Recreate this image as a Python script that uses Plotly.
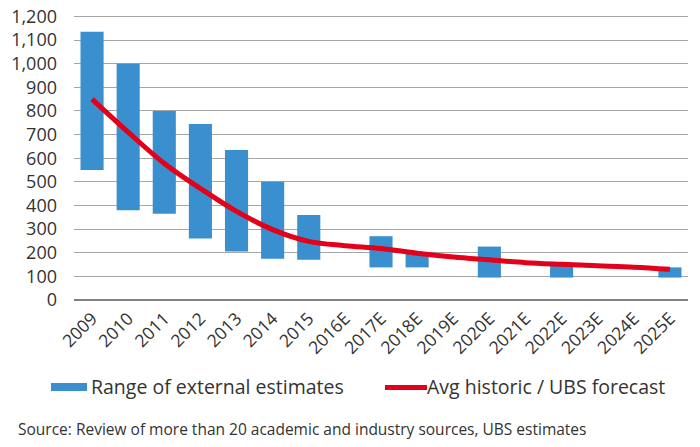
import plotly.graph_objects as go

categories = ["2009", "2010", "2011", "2012", "2013", "2014", "2015", "2016E", "2017E",
              "2018E", "2019E", "2020E", "2021E", "2022E", "2023E", "2024E", "2025E"]
range_low = [550, 380, 365, 260, 205, 175, 170, None, 138, 138, None, 95, None, 95, None, None, 95]
range_high = [1135, 1000, 800, 745, 635, 500, 360, None, 270, 195, None, 226, None, 150, None, None, 138]
avg_forecast = [850, 710, 578, 472, 375, 298, 248, 230, 218, 198, 182, 170, 158, 151, 145, 139, 130]
y_ticks = [0, 100, 200, 300, 400, 500, 600, 700, 800, 900, 1000, 1100, 1200]

legend_bar = "Range of external estimates"
legend_line = "Avg historic / UBS forecast"
source_text = "Source: Review of more than 20 academic and industry sources, UBS estimates"

BLUE = "#3a8fcf"
RED = "#e2001a"
TEXT = "#333333"
FONT = "Open Sans"

# body margin is removed in the page (post_script), so figure px == screen px
OFF = 0
YMAX = 1206
PX_PER_UNIT = 283.3 / 1200
PL, PW = 74 - OFF, 614
PH = PX_PER_UNIT * YMAX
PT = 300 - OFF - PH


def px(x):
    return (x - OFF - PL) / PW


def py(y):
    return 1 - (y - OFF - PT) / PH


heights = [None if (h is None or l is None) else h - l for h, l in zip(range_high, range_low)]

fig = go.Figure()
fig.add_trace(go.Bar(
    x=categories, y=heights, base=range_low, marker=dict(color=BLUE, line=dict(width=0)),
    name=legend_bar, showlegend=False,
))
fig.add_trace(go.Scatter(
    x=categories, y=avg_forecast, mode="lines",
    line=dict(color=RED, width=5, shape="spline", smoothing=1.0),
    name=legend_line, showlegend=False,
))

fig.update_layout(
    width=700, height=447,
    margin=dict(l=PL, r=700 - PL - PW, t=PT, b=447 - PT - PH, autoexpand=False),
    paper_bgcolor="white", plot_bgcolor="white",
    bargap=0.36,
    font=dict(family=FONT, color=TEXT),
    showlegend=False,
)
fig.update_yaxes(
    range=[0, YMAX], tickvals=y_ticks, automargin=False,
    ticktext=[f"{v:,}" for v in y_ticks],
    showgrid=True, gridcolor="#a6a6a6", gridwidth=1.3,
    zeroline=True, zerolinecolor="#808080", zerolinewidth=2,
    showline=False, ticks="", ticklabelstandoff=16,
    tickfont=dict(size=18, color=TEXT, family=FONT),
)
fig.update_xaxes(
    type="category", categoryorder="array", categoryarray=categories,
    tickangle=-45, showgrid=False, showline=False, ticks="", automargin=False,
    tickfont=dict(size=17.5, color=TEXT, family=FONT),
    ticklabelstandoff=4,
)

# Legend (drawn manually to match the wide swatches)
fig.add_shape(type="rect", xref="paper", yref="paper",
              x0=px(51), x1=px(87), y0=py(391), y1=py(383),
              fillcolor=BLUE, line=dict(width=0))
fig.add_shape(type="line", xref="paper", yref="paper",
              x0=px(385), x1=px(427), y0=py(387.5), y1=py(387.5),
              line=dict(color=RED, width=5))
fig.add_annotation(text=legend_bar, xref="paper", yref="paper",
                   x=px(89), y=py(386),
                   xanchor="left", yanchor="middle", showarrow=False,
                   font=dict(size=19.5, color=TEXT, family=FONT))
fig.add_annotation(text=legend_line, xref="paper", yref="paper",
                   x=px(425), y=py(386),
                   xanchor="left", yanchor="middle", showarrow=False,
                   font=dict(size=19.5, color=TEXT, family=FONT))
fig.add_annotation(text=source_text, xref="paper", yref="paper",
                   x=px(16), y=py(429),
                   xanchor="left", yanchor="middle", showarrow=False,
                   font=dict(size=15.5, color=TEXT, family=FONT))

fig.write_html("out.html", config={"displayModeBar": False},
               post_script="document.body.style.margin='0px';")
